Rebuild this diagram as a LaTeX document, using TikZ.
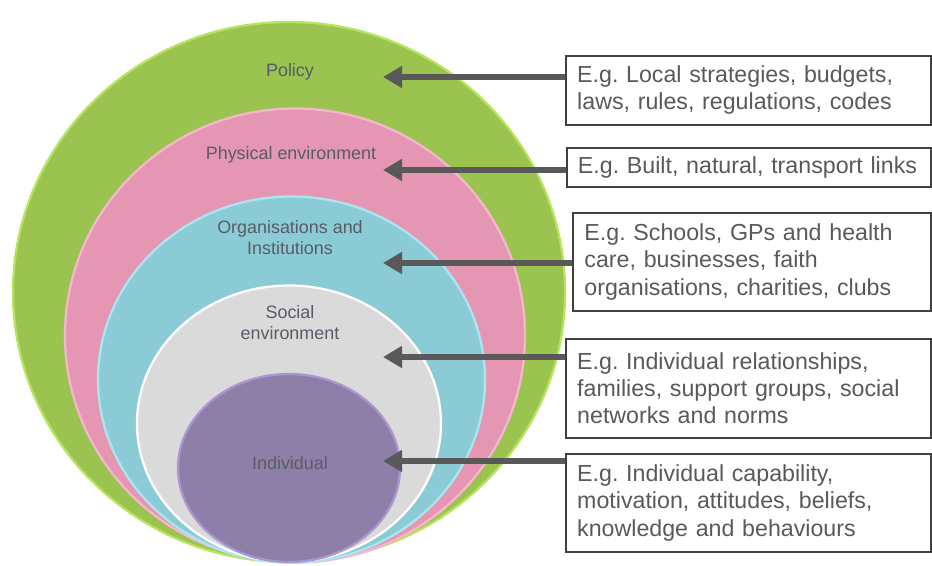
\documentclass[tikz,border=0pt]{standalone}
\usepackage{fontspec}
\setmainfont{Liberation Sans}
\usetikzlibrary{arrows.meta}
\frenchspacing

\begin{document}
\begin{tikzpicture}[x=0.02cm,y=-0.02cm,
		ring/.style={line width=1.3pt},
		ringlabel/.style={font=\fontsize{10.2}{12}\selectfont, color={rgb,255:red,88; green,92; blue,102}, align=center},
		examplebox/.style={draw={rgb,255:red,64; green,64; blue,64}, line width=1.1pt, anchor=north west, align=left, inner xsep=0.22cm, inner ysep=0pt, text width=6.85cm, text={rgb,255:red,89; green,89; blue,89}, font=\fontsize{13.2}{15.4}\selectfont},
		pointer/.style={line width=3.4pt, color={rgb,255:red,89; green,89; blue,89}, -{Triangle[length=0.38cm,width=0.42cm]}}]
		\useasboundingbox (0,0) rectangle (932,565);
		% nested rings
		\draw [ring, draw={rgb,255:red,182; green,228; blue,92}, fill={rgb,255:red,155; green,195; blue,80}] (289,292) ellipse (276 and 270);
		\draw [ring, draw={rgb,255:red,246; green,182; blue,206}, fill={rgb,255:red,228; green,150; blue,178}] (295,335.5) ellipse (230 and 227);
		\draw [ring, draw={rgb,255:red,170; green,230; blue,240}, fill={rgb,255:red,139; green,203; blue,214}] (291.5,379.5) ellipse (193.5 and 183);
		\draw [ring, draw={rgb,255:red,255; green,255; blue,255}, fill={rgb,255:red,218; green,218; blue,218}] (289,423.5) ellipse (152 and 138);
		\draw [ring, draw={rgb,255:red,170; green,150; blue,210}, fill={rgb,255:red,142; green,127; blue,168}] (289,468) ellipse (111 and 94);
		% ring labels
		\node [ringlabel] (policy) at (290,72) {Policy};
		\node [ringlabel] (physical) at (291,155) {Physical environment};
		\node [ringlabel] (organisations) at (290,238) {Organisations and\\Institutions};
		\node [ringlabel] (social) at (290,323) {Social\\environment};
		\node [ringlabel] (individual) at (290,463) {Individual};
		% example boxes
		\node [examplebox, minimum width=7.3cm, minimum height=1.38cm] (b1) at (565,55) {E.g. Local strategies, budgets,\\laws, rules, regulations, codes};
		\node [examplebox, minimum width=7.28cm, minimum height=0.78cm] (b2) at (566,147) {E.g. Built, natural, transport links};
		\node [examplebox, text width=6.7cm, minimum width=7.16cm, minimum height=1.96cm] (b3) at (572,212) {E.g. Schools, GPs and health\\care, businesses, faith\\organisations, charities, clubs};
		\node [examplebox, minimum width=7.3cm, minimum height=1.98cm] (b4) at (565,338) {E.g. Individual relationships,\\families, support groups, social\\networks and norms};
		\node [examplebox, minimum width=7.3cm, minimum height=1.96cm] (b5) at (565,453) {E.g. Individual capability,\\motivation, attitudes, beliefs,\\knowledge and behaviours};
		% arrows
		\coordinate (tip1) at (383,77);
		\coordinate (tip2) at (383,170);
		\coordinate (tip3) at (383,263);
		\coordinate (tip4) at (383,357);
		\coordinate (tip5) at (383,461);
		\draw [pointer] (b1.west |- tip1) -- (tip1);
		\draw [pointer] (b2.west |- tip2) -- (tip2);
		\draw [pointer] (b3.west |- tip3) -- (tip3);
		\draw [pointer] (b4.west |- tip4) -- (tip4);
		\draw [pointer] (b5.west |- tip5) -- (tip5);
\end{tikzpicture}
\end{document}
